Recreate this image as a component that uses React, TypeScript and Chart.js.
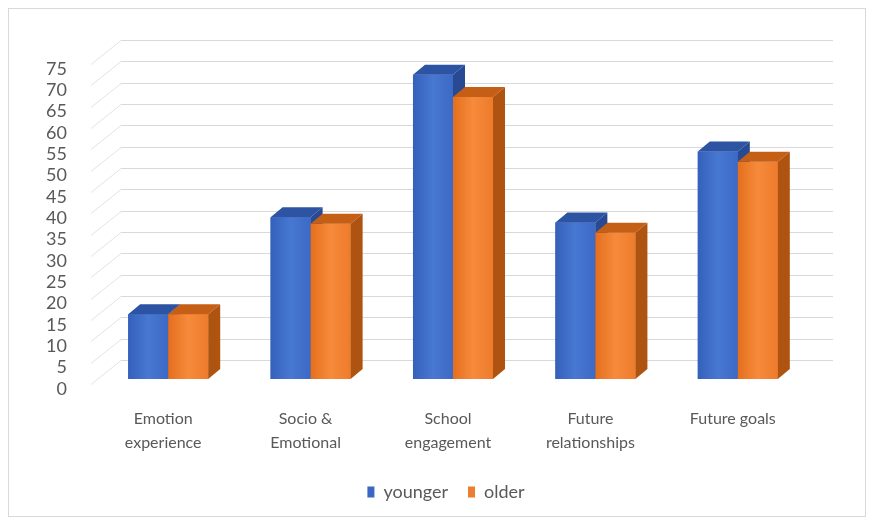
import React, { useEffect, useRef } from 'react';
import { Chart, registerables } from 'chart.js';

Chart.register(...registerables);

const categories: string[][] = [
  ['Emotion', 'experience'],
  ['Socio &', 'Emotional'],
  ['School', 'engagement'],
  ['Future', 'relationships'],
  ['Future goals'],
];
const younger = [15.2, 37.9, 71.3, 36.7, 53.3];
const older = [15.2, 36.4, 66.1, 34.3, 50.9];
const seriesNames = ['younger', 'older'];
const yMin = 0;
const yMax = 75;
const yStep = 5;

const TEXT = '#595959';
const FONT = 'Lato, "Open Sans", sans-serif';

const faces = [
  { front: ['#3460BA', '#4778D2', '#3C69C6'], top: '#2D53A3', side: '#274A93', legend: '#3A66C4' },
  { front: ['#E46F1E', '#F68B3B', '#EE7B2C'], top: '#C65F16', side: '#AE5310', legend: '#ED7D31' },
];

const BAR_DX = 12;
const BAR_DY = 10;

const threeD = {
  id: 'threeD',
  afterLayout(chart: any) {
    const lg = chart.legend;
    if (lg) {
      lg.left += 37;
      lg.right += 37;
    }
  },
  beforeDatasetsDraw(chart: any) {
    const { ctx, chartArea, scales } = chart;
    const ys = scales.y;
    ctx.save();
    ctx.lineWidth = 1;
    for (let v = yMin; v <= yMax; v += yStep) {
      const yy = Math.round(ys.getPixelForValue(v)) + 0.5;
      ctx.strokeStyle = '#e3e3e3';
      ctx.beginPath();
      ctx.moveTo(chartArea.left - 6, yy + 5);
      ctx.lineTo(chartArea.left + 24, yy - 19);
      ctx.stroke();
      ctx.strokeStyle = '#d9d9d9';
      ctx.beginPath();
      ctx.moveTo(chartArea.left + 24, yy - 19);
      ctx.lineTo(chartArea.right + 24, yy - 19);
      ctx.stroke();
    }
    ctx.restore();
  },
  afterDatasetsDraw(chart: any) {
    const { ctx } = chart;
    const n = chart.data.labels.length;
    ctx.save();
    for (let j = 0; j < n; j++) {
      for (let i = 0; i < chart.data.datasets.length; i++) {
        const el = chart.getDatasetMeta(i).data[j];
        if (!el) continue;
        const { x, y, base, width } = el.getProps(['x', 'y', 'base', 'width'], true);
        const l = x - width / 2;
        const r = x + width / 2;
        const f = faces[i];
        const g = ctx.createLinearGradient(l, 0, r, 0);
        g.addColorStop(0, f.front[0]);
        g.addColorStop(0.5, f.front[1]);
        g.addColorStop(1, f.front[2]);
        ctx.fillStyle = g;
        ctx.fillRect(l, y, width, base - y);
        ctx.fillStyle = f.top;
        ctx.beginPath();
        ctx.moveTo(l, y);
        ctx.lineTo(l + BAR_DX, y - BAR_DY);
        ctx.lineTo(r + BAR_DX, y - BAR_DY);
        ctx.lineTo(r, y);
        ctx.closePath();
        ctx.fill();
        ctx.fillStyle = f.side;
        ctx.beginPath();
        ctx.moveTo(r, y);
        ctx.lineTo(r + BAR_DX, y - BAR_DY);
        ctx.lineTo(r + BAR_DX, base - BAR_DY);
        ctx.lineTo(r, base);
        ctx.closePath();
        ctx.fill();
      }
    }
    ctx.restore();
  },
};

export default function App() {
  const ref = useRef<HTMLCanvasElement>(null);
  useEffect(() => {
    if (!ref.current) return;
    const chart = new Chart(ref.current, {
      type: 'bar',
      data: {
        labels: categories,
        datasets: [
          { label: seriesNames[0], data: younger, backgroundColor: faces[0].legend, borderWidth: 0 },
          { label: seriesNames[1], data: older, backgroundColor: faces[1].legend, borderWidth: 0 },
        ],
      },
      options: {
        responsive: false,
        animation: false,
        layout: { padding: { left: 0, right: 56, top: 50, bottom: 5 } },
        datasets: { bar: { categoryPercentage: 0.562, barPercentage: 1 } },
        scales: {
          x: {
            grid: { display: false, drawTicks: false },
            border: { display: false },
            ticks: {
              color: TEXT,
              font: { family: FONT, size: 16, lineHeight: 1.5 },
              padding: 28,
              labelOffset: -5,
              maxRotation: 0,
              autoSkip: false,
            },
            afterFit: (s: any) => { s.height = 84; },
          },
          y: {
            min: yMin,
            max: yMax,
            grid: { display: false, drawTicks: false },
            border: { display: false },
            ticks: {
              stepSize: yStep,
              autoSkip: false,
              color: TEXT,
              font: { family: FONT, size: 18 },
              padding: 30,
              labelOffset: 10,
            },
            afterFit: (s: any) => { s.width = 88; },
          },
        },
        plugins: {
          legend: {
            position: 'bottom',
            labels: {
              color: TEXT,
              font: { family: FONT, size: 18 },
              boxWidth: 7,
              boxHeight: 11,
              padding: 20,
            },
          },
          tooltip: { enabled: false },
        },
      },
      plugins: [threeD],
    });
    return () => chart.destroy();
  }, []);
  return (
    <div style={{ width: 856, height: 507, border: '1px solid #d9d9d9', background: '#fff' }}>
      <canvas ref={ref} width={856} height={507} style={{ display: 'block' }} />
    </div>
  );
}
